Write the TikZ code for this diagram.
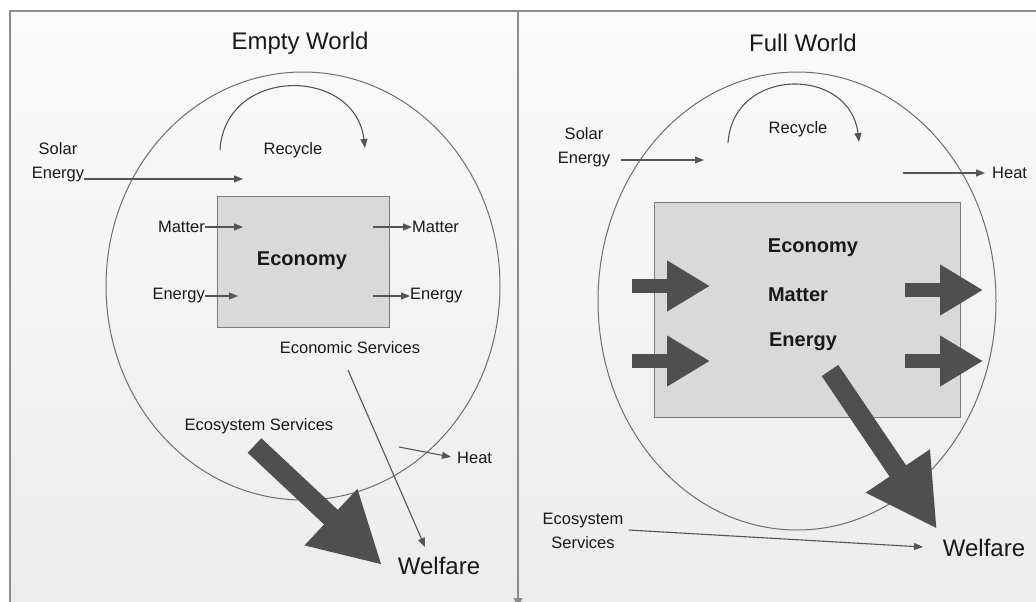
\documentclass[tikz,border=0pt]{standalone}
\usepackage{fontspec}
\setmainfont{Liberation Sans}
\usetikzlibrary{arrows.meta, shapes.geometric, positioning}
\definecolor{framegray}{HTML}{8C8C8C}
\definecolor{linegray}{HTML}{555555}
\definecolor{circlegray}{HTML}{6E6E6E}
\definecolor{boxgray}{HTML}{D9D9D9}
\definecolor{boxedge}{HTML}{7A7A7A}
\definecolor{blockgray}{HTML}{4F4F4F}
\definecolor{paperlight}{HTML}{FAFAFA}
\definecolor{paperdark}{HTML}{ECECEC}

\begin{document}
\begin{tikzpicture}[x=1pt, y=-1pt,
  title/.style={font=\fontsize{24}{28}\selectfont, text=black!90, inner sep=0pt},
  lbl/.style={font=\fontsize{16.5}{24}\selectfont, text=black!90, align=center, inner sep=0pt},
  boldlbl/.style={font=\bfseries\fontsize{20}{24}\selectfont, text=black!90, inner sep=0pt},
  welfarelbl/.style={font=\fontsize{24}{28}\selectfont, text=black!90, inner sep=0pt},
  world/.style={draw=circlegray, line width=1pt, ellipse, inner sep=0pt},
  econbox/.style={draw=boxedge, fill=boxgray, line width=1pt, rectangle, inner sep=0pt},
  flow/.style={draw=linegray, line width=1.1pt, -{Triangle[length=9pt, width=7pt]}},
  blockarrow/.style={draw=blockgray, line width=14pt, -{Triangle[length=43pt, width=48pt]}},
  bigarrow/.style={draw=blockgray, line width=20pt, -{Triangle[length=70pt, width=72pt]}}]
  \useasboundingbox (0,0) rectangle (1036,602);

  % Paper and frame
  \fill[white] (0,0) rectangle (1036,602);
  \shade[top color=paperlight, bottom color=paperdark] (10,11) rectangle (1036,602);
  \draw[framegray, line width=1.5pt] (10,602) -- (10,11) -- (1036,11);
  \coordinate (divtop) at (518,11);
  \coordinate (divbot) at (518,607);
  \draw[draw=framegray, line width=1.2pt, -{Triangle[length=9pt, width=9pt]}] (divtop) -- (divbot);

  % Empty World (left)
  \node[title] (emptytitle) at (300,43) {Empty World};
  \node[world, minimum width=394pt, minimum height=428pt] (emptyworld) at (303,286) {};
  \node[econbox, minimum width=172pt, minimum height=131pt] (emptyecon) at (303,261.5) {};
  \node[boldlbl] (emptyecontext) at (302,261) {Economy};

  \coordinate (emptyrecA) at (220,150);
  \coordinate (emptyrecB) at (365,148);
  \draw[flow] (emptyrecA) .. controls (225,66) and (355,66) .. (emptyrecB);
  \node[lbl] (emptyrecycle) at (293,150) {Recycle};

  \node[lbl] (emptysolar) at (58,162) {Solar\\Energy};
  \coordinate (emptysolarend) at (243,179);
  \draw[flow] (emptysolar.east |- emptysolarend) -- (emptysolarend);

  \node[lbl, anchor=east] (emptymatterin) at (205,227) {Matter};
  \coordinate (emptymatterinend) at (243,227);
  \draw[flow] (emptymatterin) -- (emptymatterinend);
  \node[lbl, anchor=east] (emptyenergyin) at (205,296) {Energy};
  \coordinate (emptyenergyinend) at (238,296);
  \draw[flow] (emptyenergyin) -- (emptyenergyinend);

  \node[lbl, anchor=west] (emptymatterout) at (412,227) {Matter};
  \coordinate (emptymatteroutstart) at (373,227);
  \draw[flow] (emptymatteroutstart) -- (emptymatterout);
  \node[lbl, anchor=west] (emptyenergyout) at (410,296) {Energy};
  \coordinate (emptyenergyoutstart) at (373,296);
  \draw[flow] (emptyenergyoutstart) -- (emptyenergyout);

  \node[lbl] (emptyecserv) at (350,348) {Economic Services};
  \node[welfarelbl] (emptywelfare) at (439,566) {Welfare};
  \coordinate (emptyecservstart) at (348,370);
  \coordinate (emptyecservend) at (425,547);
  \draw[flow] (emptyecservstart) -- (emptyecservend);

  \node[lbl] (emptyecosys) at (259,426) {Ecosystem Services};
  \coordinate (emptybigstart) at (254.5,445.5);
  \coordinate (emptybigtip) at (382,565);
  \draw[bigarrow] (emptybigstart) -- (emptybigtip);

  \node[lbl, anchor=west] (emptyheat) at (457,458) {Heat};
  \coordinate (emptyheatstart) at (399,447);
  \coordinate (emptyheatend) at (451,457);
  \draw[flow] (emptyheatstart) -- (emptyheatend);

  % Full World (right)
  \node[title] (fulltitle) at (803,43) {Full World};
  \node[world, minimum width=398pt, minimum height=458pt] (fullworld) at (797,301) {};
  \node[econbox, minimum width=306pt, minimum height=215pt] (fullecon) at (807,309.5) {};
  \node[boldlbl] (fullecontext) at (813,248) {Economy};
  \node[boldlbl] (fullmatter) at (798,295) {Matter};
  \node[boldlbl] (fullenergy) at (803,342) {Energy};

  \coordinate (fullrecA) at (728,143);
  \coordinate (fullrecB) at (859,142);
  \draw[flow] (fullrecA) .. controls (733,66) and (850,66) .. (fullrecB);
  \node[lbl] (fullrecycle) at (798,129) {Recycle};

  \node[lbl] (fullsolar) at (584,147) {Solar\\Energy};
  \coordinate (fullsolarend) at (704,160);
  \draw[flow] (fullsolar.east |- fullsolarend) ++(11,0) -- (fullsolarend);

  \node[lbl, anchor=west] (fullheat) at (992,173) {Heat};
  \coordinate (fullheatstart) at (903,173);
  \coordinate (fullheatend) at (985,173);
  \draw[flow] (fullheatstart) -- (fullheatend);

  \coordinate (fullinA) at (632,286);
  \coordinate (fullinAend) at (710,286);
  \coordinate (fullinB) at (632,361);
  \coordinate (fullinBend) at (710,361);
  \coordinate (fulloutA) at (905,290);
  \coordinate (fulloutAend) at (983,290);
  \coordinate (fulloutB) at (905,361);
  \coordinate (fulloutBend) at (983,361);
  \draw[blockarrow] (fullinA) -- (fullinAend);
  \draw[blockarrow] (fullinB) -- (fullinBend);
  \draw[blockarrow] (fulloutA) -- (fulloutAend);
  \draw[blockarrow] (fulloutB) -- (fulloutBend);

  \node[welfarelbl] (fullwelfare) at (984,548) {Welfare};
  \coordinate (fullbigstart) at (830,370.5);
  \coordinate (fullbigtip) at (937,529);
  \draw[bigarrow] (fullbigstart) -- (fullbigtip);

  \node[lbl] (fullecosys) at (583,531) {Ecosystem\\Services};
  \coordinate (fullecosysend) at (923,547);
  \draw[flow] (fullecosys.east |- 0,530) ++(5,0) -- (fullecosysend);
\end{tikzpicture}
\end{document}
